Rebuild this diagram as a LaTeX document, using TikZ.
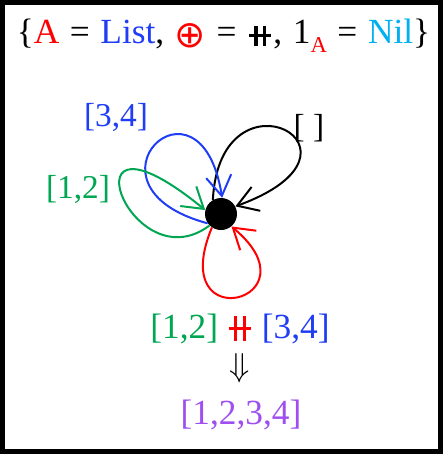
\documentclass[tikz,border=0pt]{standalone}
\usepackage{fontspec}
\setmainfont{Liberation Serif}
\newfontfamily\symfont{DejaVu Sans}
\usepackage{amsmath}
\usetikzlibrary{arrows.meta}
\definecolor{MonRed}{HTML}{FF0000}
\definecolor{MonBlue}{HTML}{1F3DF5}
\definecolor{NilBlue}{HTML}{00B0F0}
\definecolor{MonGreen}{HTML}{00A651}
\definecolor{MonPurple}{HTML}{9F4FF0}
\newcommand{\concat}[2]{\mbox{\hspace{0.06em}\rlap{\rule[\dimexpr#2/2-0.1em\relax]{#1}{0.09em}}\hspace{\dimexpr(#1-0.34em)/2\relax}\rule[-0.06em]{0.09em}{#2}\hspace{0.16em}\rule[-0.06em]{0.09em}{#2}\hspace{\dimexpr(#1-0.34em)/2\relax}\hspace{0.06em}}}
\newcommand{\gap}{\hspace{0.3em}}

\begin{document}
\begin{tikzpicture}[x=0.75pt,y=-0.75pt]
      \tikzstyle{lbl}=[inner sep=0pt, font=\fontsize{25}{30}\selectfont]
      \tikzstyle{biglbl}=[inner sep=0pt, font=\fontsize{26.5}{30}\selectfont]
      \tikzstyle{selfedge}=[line width=1.5pt, -{Straight Barb[length=15pt,width=19pt]}]
      \useasboundingbox (0,0) rectangle (444,455);
      \draw[line width=3.75pt] (2.5,2.5) rectangle (441,451.5);
      \node[biglbl] (title) at (223.5,36) {\{\textcolor{MonRed}{A}\gap=\gap\textcolor{MonBlue}{List},\gap\textcolor{MonRed}{\raisebox{-3pt}{\symfont\fontsize{28}{28}\selectfont ⊕}}\gap=\gap\concat{0.62em}{0.56em},\gap1\raisebox{-0.26em}{\textcolor{MonRed}{\fontsize{17}{17}\selectfont A}}\gap=\gap\textcolor{NilBlue}{Nil}\}};
      \node[circle, fill=black, inner sep=0pt, minimum size=24pt] (dot) at (221,214) {};
      \draw[selfedge, black] (dot.120) .. controls +(7,-139) and +(154,-56) .. (dot.28);
      \draw[selfedge, MonBlue] (dot.215) .. controls +(-138,-37) and +(-22,-138) .. (dot.86);
      \draw[selfedge, MonGreen] (dot.225) .. controls +(-80,60) and +(-148,-121) .. (dot.166);
      \draw[selfedge, MonRed] (dot.236) .. controls +(-47,113) and +(89,74) .. (dot.310);
      \node[lbl, MonBlue] (l34) at (116,117) {[3,4]};
      \node[lbl, MonGreen] (l12) at (78,189) {[1,2]};
      \node[lbl] (lnil) at (309,128) {[ ]};
      \node[biglbl] (expr) at (240,329) {\textcolor{MonGreen}{[1,2]} \textcolor{MonRed}{\concat{0.62em}{0.7em}} \textcolor{MonBlue}{[3,4]}};
      \node[lbl] (down) at (240,368) {$\Downarrow$};
      \node[biglbl, MonPurple] (res) at (241,415) {[1,2,3,4]};
    \end{tikzpicture}
\end{document}
